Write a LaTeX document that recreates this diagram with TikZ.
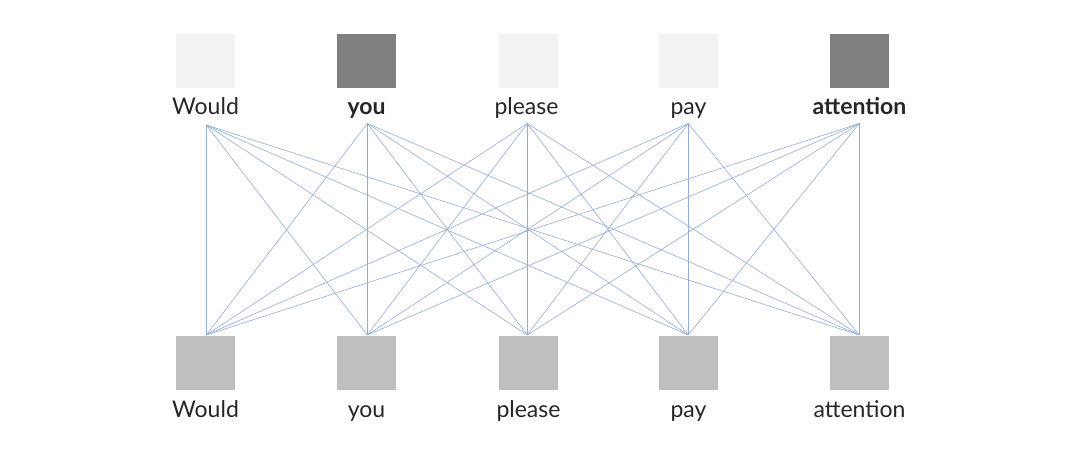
\documentclass[tikz,border=0pt]{standalone}
\usepackage{fontspec}
\setmainfont{Lato}
\definecolor{lightbox}{HTML}{F2F2F2}
\definecolor{darkbox}{HTML}{7F7F7F}
\definecolor{midbox}{HTML}{BFBFBF}
\definecolor{linkblue}{HTML}{93ACD8}
\begin{document}
\begin{tikzpicture}[x=1pt,y=-1pt,
  sq/.style={draw=none, minimum width=59pt, minimum height=54pt, inner sep=0pt},
  word/.style={anchor=base, inner sep=0pt, font=\fontsize{23}{27}\selectfont, text=black!85},
  link/.style={draw=linkblue, line width=0.6pt}]
\useasboundingbox (0,0) rectangle (1080,462);
% top squares
\node[sq, fill=lightbox] (ts1) at (205.5,61) {};
\node[sq, fill=darkbox]  (ts2) at (366.5,61) {};
\node[sq, fill=lightbox] (ts3) at (528.5,61) {};
\node[sq, fill=lightbox] (ts4) at (688.5,61) {};
\node[sq, fill=darkbox]  (ts5) at (859.5,61) {};
% bottom squares
\node[sq, fill=midbox] (bs1) at (205.5,363) {};
\node[sq, fill=midbox] (bs2) at (366.5,363) {};
\node[sq, fill=midbox] (bs3) at (528.5,363) {};
\node[sq, fill=midbox] (bs4) at (688.5,363) {};
\node[sq, fill=midbox] (bs5) at (859.5,363) {};
% top labels
\node[word] (tw1) at (205.5,115) {Would};
\node[word] (tw2) at (366.5,115) {\bfseries you};
\node[word] (tw3) at (526.5,115) {please};
\node[word] (tw4) at (688.5,115) {pay};
\node[word] (tw5) at (859.5,115) {\bfseries attention};
% bottom labels
\node[word] (bw1) at (205.5,418) {Would};
\node[word] (bw2) at (366.5,418) {you};
\node[word] (bw3) at (528.5,418) {please};
\node[word] (bw4) at (688.5,418) {pay};
\node[word] (bw5) at (859.5,418) {attention};
% connection points
\coordinate (t1) at (206.3,125);
\coordinate (t2) at (367.3,123.5);
\coordinate (t3) at (527.3,123.5);
\coordinate (t4) at (688.3,123.5);
\coordinate (t5) at (859.3,123.5);
\coordinate (b1) at (206.3,335);
\coordinate (b2) at (367.3,335);
\coordinate (b3) at (527.3,335);
\coordinate (b4) at (688.3,335);
\coordinate (b5) at (859.3,335);
\foreach \i in {1,...,5}{
  \foreach \j in {1,...,5}{
    \draw[link] (t\i) -- (b\j);
  }
}
\end{tikzpicture}
\end{document}
